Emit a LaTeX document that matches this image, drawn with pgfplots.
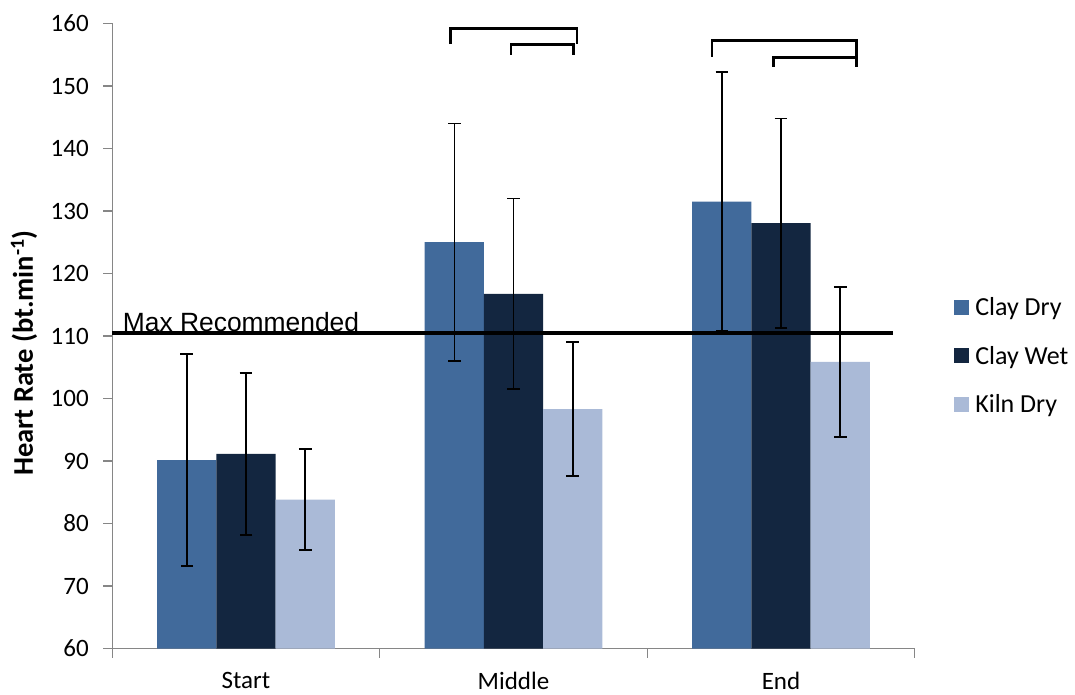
\documentclass[border=0pt]{standalone}
\usepackage{pgfplots}
\pgfplotsset{compat=1.18}
\usepackage{pgfplotstable}
\usepackage{fontspec}
\setmainfont{Carlito}
\newfontfamily\arialf{Liberation Sans}

\definecolor{claydry}{RGB}{65,106,155}
\definecolor{claywet}{RGB}{19,38,64}
\definecolor{kilndry}{RGB}{170,186,215}
\definecolor{axisgray}{RGB}{134,134,134}

% x: 0 = Start, 1 = Middle, 2 = End; err = +/- error bar
\pgfplotstableread{
x  y       err
0  90.15   17.00
1  125.00  19.00
2  131.50  20.70
}\claydrytab
\pgfplotstableread{
x  y       err
0  91.15   12.95
1  116.75  15.25
2  128.05  16.75
}\claywettab
\pgfplotstableread{
x  y       err
0  83.80   8.10
1  98.30   10.70
2  105.85  11.95
}\kilndrytab

\begin{document}
\begin{tikzpicture}
\path[use as bounding box] (-112.25pt,-46.5pt) rectangle (962.75pt,648.5pt);
\begin{axis}[
  scale only axis,
  width=802.5pt, height=625pt,
  xmin=-0.5, xmax=2.5, ymin=60, ymax=160,
  axis x line*=bottom, axis y line*=left,
  axis line style={draw=axisgray, line width=1.3pt},
  tick align=outside,
  ytick={60,70,...,160},
  xtick={0,1,2}, xticklabels={Start,Middle,End},
  minor xtick={-0.5,0.5,1.5,2.5},
  major tick length=9pt, minor tick length=9pt,
  tick style={draw=axisgray, line width=1.3pt},
  major x tick style={draw=none},
  tick label style={font=\fontsize{25}{30}\selectfont},
  /pgf/number format/assume math mode=true,
  yticklabel style={xshift=-11pt},
  xticklabel style={yshift=-11pt},
  ylabel={\textbf{Heart Rate (bt.min\textsuperscript{-1})}},
  ylabel style={font=\fontsize{28.5}{34}\selectfont, at={(axis description cs:-0.0988,0.4728)}, anchor=base},
  ybar=0pt, bar width=59.2pt,
  legend style={at={(axis description cs:1.049,0.468)}, anchor=west, draw=none, fill=none,
    inner sep=0pt, font=\fontsize{26}{31}\selectfont, row sep=25pt,
    /tikz/every odd column/.append style={column sep=4pt}},
  legend cell align=left,
  legend image code/.code={\fill[#1,draw=none] (0pt,-7.5pt) rectangle (15pt,7.5pt);},
  error bars/y dir=both, error bars/y explicit,
  error bars/error bar style={black, line width=1.6pt},
  error bars/error mark options={black, line width=1.8pt, mark size=6.3pt, rotate=90},
]
\addplot[fill=claydry, draw=none] table[x=x, y=y, y error=err] {\claydrytab};
\addplot[fill=claywet, draw=none] table[x=x, y=y, y error=err] {\claywettab};
\addplot[fill=kilndry, draw=none] table[x=x, y=y, y error=err] {\kilndrytab};
\legend{Clay Dry, Clay Wet, Kiln Dry}

% recommended maximum heart rate
\addplot[ybar=0pt, sharp plot, black, line width=4pt, forget plot, error bars/y dir=none]
  coordinates {(-0.5,110.4) (2.42,110.4)};
\node[anchor=base west, inner sep=0pt, font=\arialf\fontsize{26.4}{31}\selectfont]
  at (axis cs:-0.461,110.7) {Max Recommended};

% significance brackets
\addplot[sharp plot, black, line width=2.8pt, forget plot, error bars/y dir=none]
  coordinates {(0.765,156.7) (0.765,159.2) (1.237,159.2) (1.237,156.7)};
\addplot[sharp plot, black, line width=2.8pt, forget plot, error bars/y dir=none]
  coordinates {(0.991,155.0) (0.991,156.6) (1.224,156.6) (1.224,155.0)};
\addplot[sharp plot, black, line width=2.8pt, forget plot, error bars/y dir=none]
  coordinates {(1.742,154.7) (1.742,157.3) (2.283,157.3) (2.283,153.1)};
\addplot[sharp plot, black, line width=2.8pt, forget plot, error bars/y dir=none]
  coordinates {(1.973,153.1) (1.973,154.6) (2.283,154.6)};
\end{axis}
\end{tikzpicture}
\end{document}
